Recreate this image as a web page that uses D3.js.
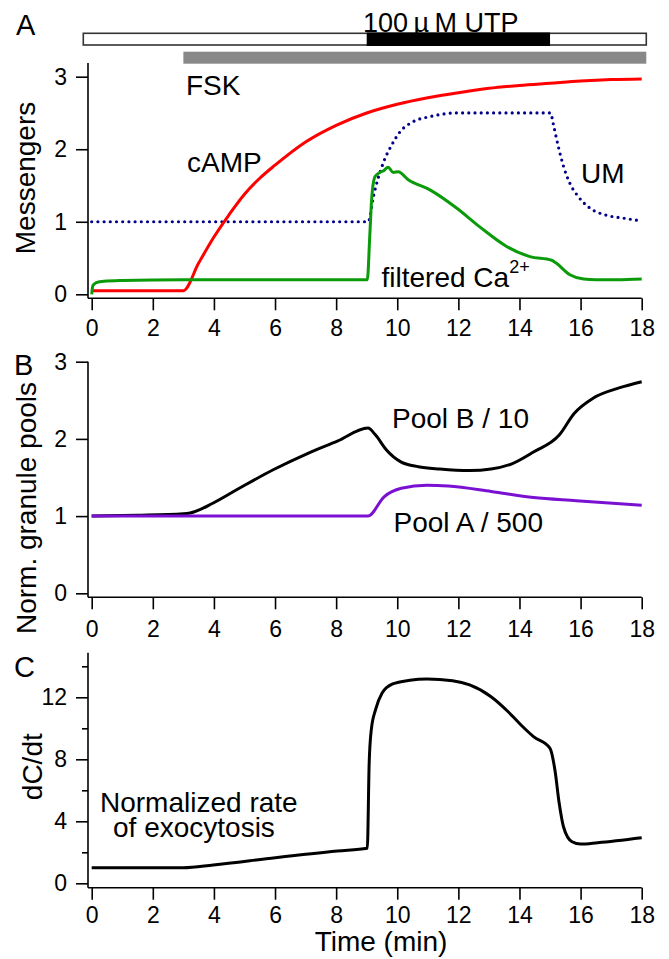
<!DOCTYPE html>
<meta charset="utf-8">
<style>
  body { margin: 0; background: #fff; }
  svg text { font-family: "Liberation Sans", Arial, sans-serif; fill: #000; }
  .axis line { stroke: #000; stroke-width: 1.6px; }
  .axis .tick text { font-size: 23px; }
  .frame { stroke: #000; stroke-width: 1.6px; fill: none; }
  .label { font-size: 28px; }
  .line { fill: none; stroke-width: 3px; stroke-linejoin: round; }
</style>

<body>
  <script src="https://d3js.org/d3.v7.min.js"></script>
  <script>

    // ---- data (time in min) ----
    // panel A
    var campT = [0, 3, 3.5, 4, 4.5, 5, 5.5, 6, 7, 8, 9, 10, 11, 12, 13, 14, 15, 16, 17, 18];
    var campV = [0.05, 0.05, 0.43, 0.79, 1.1, 1.38, 1.6, 1.78, 2.1, 2.33, 2.5, 2.62, 2.71, 2.78, 2.84, 2.88, 2.91, 2.94, 2.96, 2.97];

    var caT = [0, 0.04, 0.15, 0.4, 1, 3, 6, 9.02, 9.1, 9.16, 9.27, 9.43, 9.54, 9.7, 9.87, 10.03, 10.36, 11.07, 11.94, 12.7, 13.58, 14.34, 15.05, 15.2, 15.65, 16.1, 16.5, 17.2, 18];
    var caV = [0.0, 0.12, 0.16, 0.18, 0.19, 0.2, 0.2, 0.2, 0.8, 1.3, 1.62, 1.68, 1.7, 1.75, 1.68, 1.69, 1.58, 1.44, 1.19, 0.93, 0.66, 0.52, 0.47, 0.43, 0.27, 0.21, 0.2, 0.2, 0.21];

    var umT = [0, 9.05, 9.22, 9.54, 9.82, 10.09, 10.52, 11.07, 11.94, 13, 15.02, 15.1, 15.27, 15.43, 15.65, 15.92, 16.3, 16.85, 17.4, 18];
    var umV = [1, 1, 1.35, 1.81, 2.06, 2.24, 2.38, 2.45, 2.5, 2.5, 2.5, 2.36, 2.04, 1.78, 1.53, 1.35, 1.19, 1.09, 1.05, 1.01];

    // panel B
    var poolBT = [0, 1.5, 3.0, 3.22, 3.98, 4.83, 5.94, 7.06, 8.04, 9.04, 9.29, 9.64, 10.13, 10.69, 11.39, 12.37, 13.07, 13.77, 14.46, 15.3, 15.79, 16.42, 17.26, 18];
    var poolBV = [1, 1.01, 1.03, 1.04, 1.17, 1.36, 1.6, 1.81, 1.97, 2.14, 2.05, 1.86, 1.7, 1.64, 1.61, 1.59, 1.61, 1.68, 1.83, 2.05, 2.33, 2.53, 2.66, 2.74];

    var poolAT = [0, 9.04, 9.57, 10.13, 10.97, 11.67, 13.07, 14.46, 15.86, 18];
    var poolAV = [1, 1, 1.25, 1.36, 1.4, 1.39, 1.32, 1.24, 1.2, 1.14];

    // panel C
    var rateT = [0, 3.0, 3.98, 6.01, 8.04, 9.02, 9.08, 9.15, 9.29, 9.5, 9.85, 10.41, 10.97, 11.81, 12.37, 13.07, 13.63, 14.05, 14.46, 15.0, 15.16, 15.3, 15.44, 15.72, 16.0, 16.56, 18];
    var rateV = [1, 1, 1.18, 1.65, 2.08, 2.26, 7.7, 9.9, 11.2, 12.26, 12.86, 13.1, 13.18, 13.07, 12.8, 12.04, 11.07, 10.21, 9.46, 8.71, 7.31, 5.16, 3.65, 2.68, 2.53, 2.62, 2.94];

    // stimulus periods
    var utpOn = [9, 15];
    var fskOn = [3, 18.15];

    // tick labels
    var xTicks = [0, 2, 4, 6, 8, 10, 12, 14, 16, 18];
    var aTicks = [0, 1, 2, 3];
    var bTicks = [0, 1, 2, 3];
    var cTicks = [0, 4, 8, 12];
    var cMinor = [2, 6, 10, 14];

    // ---- layout ----
    var W = 669, H = 959;
    var axisX = 88;
    var svg = d3.select("body").append("svg")
      .attr("width", W)
      .attr("height", H);

    var x = d3.scaleLinear().domain([0, 18]).range([91.7, 641.7]);

    var panels = [
      { y: d3.scaleLinear().domain([0, 3]).range([294.3, 76.7]), top: 63, base: 298.3, ticks: aTicks, pad: 9 },
      { y: d3.scaleLinear().domain([0, 3]).range([593.3, 361.7]), top: 361.7, base: 597.3, ticks: bTicks, pad: 11 },
      { y: d3.scaleLinear().domain([0, 12]).range([883.3, 697.3]), top: 652.7, base: 887.7, ticks: cTicks, pad: 7 }
    ];

    function zipPts(t, v) { return t.map(function (d, i) { return [d, v[i]]; }); }

    panels.forEach(function (p, i) {
      // y axis
      var ya = svg.append("g").attr("class", "axis")
        .attr("transform", "translate(" + axisX + ",0)")
        .call(d3.axisLeft(p.y).tickValues(p.ticks).tickFormat(d3.format("d"))
          .tickSize(12).tickPadding(9).tickSizeOuter(0));
      ya.select(".domain").remove();
      if (i == 2) {
        var ym = svg.append("g").attr("class", "axis")
          .attr("transform", "translate(" + axisX + ",0)")
          .call(d3.axisLeft(p.y).tickValues(cMinor).tickSize(6).tickFormat("").tickSizeOuter(0));
        ym.select(".domain").remove();
      }
      // x axis
      var xa = svg.append("g").attr("class", "axis")
        .attr("transform", "translate(0," + p.base + ")")
        .call(d3.axisBottom(x).tickValues(xTicks).tickFormat(d3.format("d"))
          .tickSize(12).tickPadding(p.pad).tickSizeOuter(0));
      xa.select(".domain").remove();

      // frame lines
      svg.append("line").attr("class", "frame")
        .attr("x1", axisX).attr("x2", axisX).attr("y1", p.top).attr("y2", p.base);
      svg.append("line").attr("class", "frame")
        .attr("x1", axisX).attr("x2", x(18)).attr("y1", p.base).attr("y2", p.base);
    });

    function drawLine(pnl, t, v, color, dotted) {
      var line = d3.line()
        .curve(d3.curveMonotoneX)
        .x(function (d) { return x(d[0]); })
        .y(function (d) { return pnl.y(d[1]); });
      var path = svg.append("path")
        .datum(zipPts(t, v))
        .attr("class", "line")
        .attr("d", line)
        .style("stroke", color);
      if (dotted) {
        path.style("stroke-dasharray", "0,6.2").style("stroke-linecap", "round").style("stroke-width", "3.2px");
      }
      return path;
    }

    // panel A
    drawLine(panels[0], umT, umV, "#00008b", true);
    drawLine(panels[0], campT, campV, "#ff0000");
    drawLine(panels[0], caT, caV, "#0a9a0a");
    // panel B
    drawLine(panels[1], poolBT, poolBV, "#000000");
    drawLine(panels[1], poolAT, poolAV, "#7a10d2");
    // panel C
    drawLine(panels[2], rateT, rateV, "#000000");

    // stimulus bars
    svg.append("rect")
      .attr("x", 83.3).attr("y", 33.3)
      .attr("width", x(fskOn[1]) - 83.3).attr("height", 11.7)
      .style("fill", "#fff").style("stroke", "#333").style("stroke-width", 1.6);
    svg.append("rect")
      .attr("x", x(utpOn[0])).attr("y", 32.5)
      .attr("width", x(utpOn[1]) - x(utpOn[0])).attr("height", 13.5)
      .style("fill", "#000");
    svg.append("rect")
      .attr("x", x(fskOn[0])).attr("y", 51.7)
      .attr("width", x(fskOn[1]) - x(fskOn[0])).attr("height", 12)
      .style("fill", "#888");

    // texts
    function label(txt, px, py, size, rot) {
      var t = svg.append("text").attr("class", "label")
        .style("font-size", size + "px")
        .text(txt);
      if (rot) {
        t.attr("text-anchor", "middle")
          .attr("transform", "translate(" + px + "," + py + ") rotate(-90)");
      } else {
        t.attr("x", px).attr("y", py);
      }
      return t;
    }

    label("A", 16, 35, 29);
    label("B", 14, 375, 29);
    label("C", 14, 677, 29);

    label("100\u2009\u00b5\u2009M UTP", 363, 31.5, 27);
    label("FSK", 186, 95, 28);
    label("cAMP", 187, 171.7, 28);
    label("UM", 581, 183.3, 28);
    var ca = label("filtered Ca", 381.5, 287.3, 28);
    ca.append("tspan").attr("dy", -14).style("font-size", "18px").text("2+");

    label("Pool B / 10", 392, 428, 28);
    label("Pool A / 500", 393.5, 532, 28);

    // two-line note in panel C
    var note = svg.append("text").attr("class", "label").attr("y", 811.7);
    note.append("tspan").attr("x", 100).text("Normalized rate");
    note.append("tspan").attr("x", 113).attr("dy", 25).text("of exocytosis");

    label("Messengers", 35, 178, 28, true);
    label("Norm. granule pools", 36, 508, 28, true);
    label("dC/dt", 42, 766.7, 28, true);
    svg.append("text").attr("class", "label")
      .attr("x", 381).attr("y", 951)
      .attr("text-anchor", "middle")
      .text("Time (min)");

  </script>
</body>
